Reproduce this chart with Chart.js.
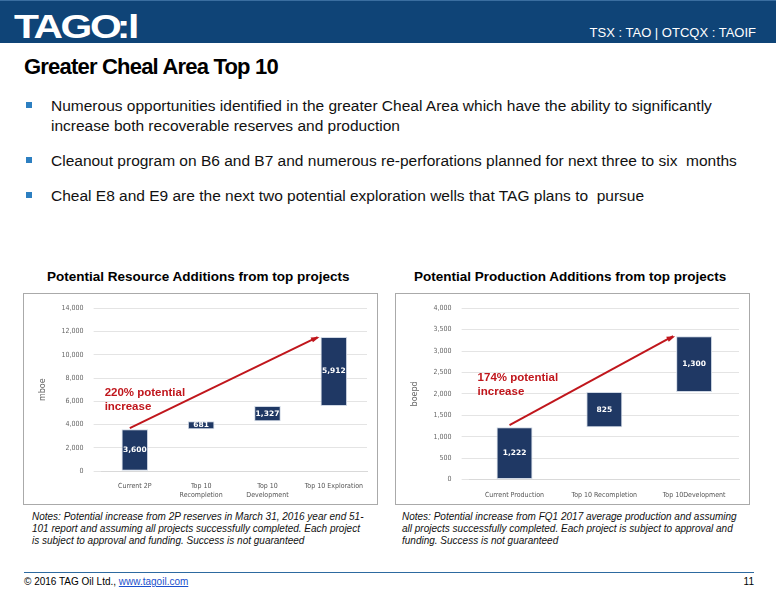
<!DOCTYPE html>
<html>
<head>
<meta charset="utf-8">
<script src="https://cdn.jsdelivr.net/npm/chart.js@4"></script>
<style>
  body { margin: 0; width: 776px; height: 600px; position: relative; font-family: "Liberation Sans", Arial, sans-serif; background: #fff; overflow: hidden; }
  .header { position: absolute; left: 0; top: 0; width: 776px; height: 42px; background: #0f4477; border-top: 1px solid #3a6ea0; }
  .logo { position: absolute; left: 14px; top: 6px; color: #fff; font: bold 34px "Liberation Sans"; letter-spacing: -2px; transform: scaleX(1.2); transform-origin: left; }
  .ticker { position: absolute; right: 20px; top: 24px; color: #fff; font: 13px "Liberation Sans"; }
  h1 { position: absolute; left: 24px; top: 54px; margin: 0; font: bold 22px "Liberation Sans"; letter-spacing: -0.8px; }
  ul { position: absolute; left: 24px; top: 96px; margin: 0; padding: 0; list-style: none; width: 720px; }
  li { position: relative; padding-left: 27px; font: 15.5px/20px "Liberation Sans"; margin-bottom: 15px; color: #111; }
  li::before { content: ""; position: absolute; left: 2px; top: 6px; width: 6px; height: 6px; background: #2d7fc1; }
  .ctitle { position: absolute; top: 269px; font: bold 13.5px "Liberation Sans"; }
  .box { position: absolute; top: 293px; width: 353px; height: 210px; border: 1px solid #aaa; }
  .note { position: absolute; top: 511px; width: 335px; font: italic 10px/12px "Liberation Sans"; color: #111; }
  .footer { position: absolute; left: 24px; top: 572px; width: 730px; border-top: 1px solid #2d6aa0; padding-top: 3px; font-size: 10px; }
  .footer a { color: #1a4fcc; }
  .footer span { float: right; }
</style>
</head>
<body>
<div class="header"><div class="logo">TAG<span style="letter-spacing:-4px">O</span>:l</div><div class="ticker">TSX : TAO | OTCQX : TAOIF</div></div>
<h1>Greater Cheal Area Top 10</h1>
<ul>
  <li>Numerous opportunities identified in the greater Cheal Area which have the ability to significantly increase both recoverable reserves and production</li>
  <li>Cleanout program on B6 and B7 and numerous re-perforations planned for next three to six &nbsp;months</li>
  <li>Cheal E8 and E9 are the next two potential exploration wells that TAG plans to &nbsp;pursue</li>
</ul>
<div class="ctitle" style="left:47px">Potential Resource Additions from top projects</div>
<div class="ctitle" style="left:414px">Potential Production Additions from top projects</div>
<div class="box" style="left:23px"><canvas id="resChart"></canvas></div>
<div class="box" style="left:395px"><canvas id="prodChart"></canvas></div>
<div class="note" style="left:32px">Notes: Potential increase from 2P reserves in March 31, 2016 year end 51-101 report and assuming all projects successfully completed. Each project is subject to approval and funding. Success is not guaranteed</div>
<div class="note" style="left:402px; width:345px">Notes: Potential increase from FQ1 2017 average production and assuming all projects successfully completed. Each project is subject to approval and funding. Success is not guaranteed</div>
<div class="footer">© 2016 TAG Oil Ltd., <a href="#">www.tagoil.com</a><span>11</span></div>

<script>
// Resource chart data (mboe)
const resCategories = [['Current 2P'], ['Top 10', 'Recompletion'], ['Top 10', 'Development'], ['Top 10 Exploration']];
const resValues = [3600, 681, 1327, 5912];
// Production chart data (boepd)
const prodCategories = ['Current Production', 'Top 10 Recompletion', 'Top 10Development'];
const prodValues = [1222, 825, 1300];

// waterfall: each bar floats on top of the running total
function waterfall(values) {
    let total = 0;
    return values.map(v => { const b = [total, total + v]; total += v; return b; });
}

// bar value labels + red growth arrow
const overlayPlugin = {
    id: 'overlay',
    afterDatasetsDraw(chart, args, opts) {
        const ctx = chart.ctx;
        const meta = chart.getDatasetMeta(0);
        const ys = chart.scales.y;
        const vals = chart.data.datasets[0].raw;
        ctx.save();
        ctx.fillStyle = '#fff';
        ctx.font = 'bold 7.5px "DejaVu Sans"';
        ctx.textAlign = 'center';
        ctx.textBaseline = 'middle';
        meta.data.forEach((bar, i) => {
            ctx.fillText(vals[i].toLocaleString('en-US'), bar.x, (bar.y + bar.base) / 2);
        });
        // arrow from first bar top to last bar top
        const first = meta.data[0], last = meta.data[meta.data.length - 1];
        const bars = chart.data.datasets[0].data;
        const x1 = first.x - 5, y1 = ys.getPixelForValue(bars[0][1] + opts.lift);
        const x2 = last.x - last.width / 2 - 3, y2 = ys.getPixelForValue(bars[bars.length - 1][1]);
        ctx.strokeStyle = '#c0161c';
        ctx.fillStyle = '#c0161c';
        ctx.lineWidth = 2;
        ctx.beginPath(); ctx.moveTo(x1, y1); ctx.lineTo(x2, y2); ctx.stroke();
        const a = Math.atan2(y2 - y1, x2 - x1);
        ctx.beginPath();
        ctx.moveTo(x2 + 2, y2);
        ctx.lineTo(x2 - 7 * Math.cos(a - 0.4), y2 - 7 * Math.sin(a - 0.4));
        ctx.lineTo(x2 - 7 * Math.cos(a + 0.4), y2 - 7 * Math.sin(a + 0.4));
        ctx.closePath(); ctx.fill();
        ctx.font = 'bold 11.5px "Liberation Sans"';
        ctx.textAlign = 'left';
        ctx.textBaseline = 'alphabetic';
        const tx = chart.chartArea.left + opts.textDx;
        const ty = ys.getPixelForValue(opts.textY);
        ctx.fillText(opts.text[0], tx, ty);
        ctx.fillText(opts.text[1], tx, ty + 14);
        ctx.restore();
    }
};

function makeChart(id, categories, values, yMax, yStep, axisTitle, overlay) {
    new Chart(document.getElementById(id), {
        type: 'bar',
        data: {
            labels: categories,
            datasets: [{
                data: waterfall(values),
                raw: values,
                backgroundColor: '#1f3864',
                borderColor: '#d0d8e4',
                borderWidth: 1,
                borderSkipped: false,
                categoryPercentage: 1,
                barPercentage: 0.4
            }]
        },
        options: {
            responsive: false,
            animation: false,
            layout: { padding: { left: 10, right: 10, top: 8, bottom: 2 } },
            plugins: { legend: { display: false }, tooltip: { enabled: false }, overlay },
            scales: {
                x: {
                    grid: { display: false },
                    border: { color: '#d9d9d9' },
                    ticks: { color: '#555', font: { family: 'DejaVu Sans Condensed', size: 7 }, maxRotation: 0, autoSkip: false }
                },
                y: {
                    min: 0,
                    max: yMax,
                    grid: { color: '#e4e4e4' },
                    border: { display: false },
                    title: { display: true, text: axisTitle, color: '#666', font: { family: 'DejaVu Sans', size: 8 } },
                    ticks: { stepSize: yStep, color: '#666', font: { family: 'DejaVu Sans Condensed', size: 7 }, padding: 10,
                        callback: v => v.toLocaleString('en-US') }
                }
            }
        },
        plugins: [overlayPlugin]
    });
}

for (const c of document.querySelectorAll('canvas')) { c.width = 353; c.height = 210; }

makeChart('resChart', resCategories, resValues, 14000, 2000, 'mboe',
    { lift: 100, text: ['220% potential', 'increase'], textDx: 3, textY: 6500 });
makeChart('prodChart', prodCategories, prodValues, 4000, 500, 'boepd',
    { lift: 50, text: ['174% potential', 'increase'], textDx: 8, textY: 2300 });
</script>
</body>
</html>
